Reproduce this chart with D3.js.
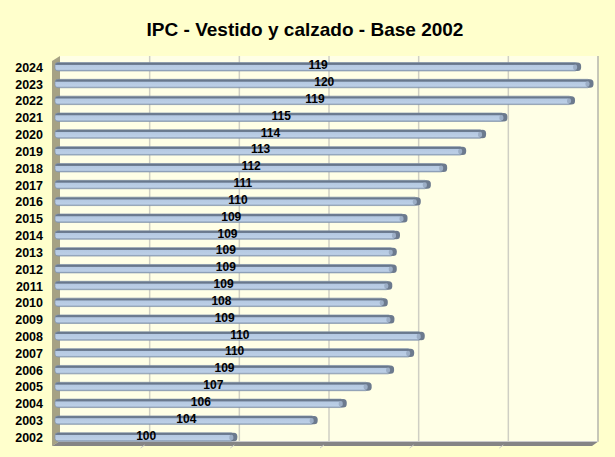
<!DOCTYPE html>
<html>
<head>
<meta charset="utf-8">
<script src="https://cdn.jsdelivr.net/npm/d3@7"></script>
<style>
  body { margin: 0; background: #ffffcc; }
  svg { display: block; font-family: "Liberation Sans", Arial, sans-serif; }
</style>
</head>
<body>
<div id="chart"></div>
<script>
// data (labels are rounded values)
const years = ["2002","2003","2004","2005","2006","2007","2008","2009","2010","2011","2012",
               "2013","2014","2015","2016","2017","2018","2019","2020","2021","2022","2023","2024"];
const values = [100, 104.48, 106.1, 107.49, 108.74, 109.86, 110.45, 108.76, 108.39, 108.64, 108.89,
                108.89, 109.07, 109.49, 110.23, 110.79, 111.7, 112.76, 113.87, 115.06, 118.83, 119.86, 119.17];
const xTicks = [90, 95, 100, 105, 110, 115, 120];
const title = "IPC - Vestido y calzado - Base 2002";

const W = 615, H = 457;
const data = years.map((y, i) => ({year: y, value: values[i]}));

const svg = d3.select("#chart").append("svg")
    .attr("width", W)
    .attr("height", H);

svg.append("rect").attr("width", W).attr("height", H).attr("fill", "#ffffcc");

// bar gradient (cylinder-ish look)
const defs = svg.append("defs");
const grad = defs.append("linearGradient")
    .attr("id", "barGrad")
    .attr("x1", 0).attr("y1", 0).attr("x2", 0).attr("y2", 1);
[["0%", "#5f6d80"], ["24%", "#6f7f95"], ["32%", "#b5c9e2"], ["80%", "#bccfe6"], ["100%", "#8c9fb8"]]
    .forEach(s => grad.append("stop").attr("offset", s[0]).attr("stop-color", s[1]));

const x = d3.scaleLinear().domain([90, 120]).range([60, 598]);
const y = d3.scaleBand()
    .domain(years.slice().reverse())
    .range([58.3, 445.4])
    .paddingInner(0.5)
    .paddingOuter(0.25);

const plotTop = 56, plotBottom = 441;

// back wall
svg.append("rect")
    .attr("x", x(90)).attr("y", plotTop)
    .attr("width", x(120) - x(90)).attr("height", plotBottom - plotTop)
    .attr("fill", "#ffffe6");

// gridlines
svg.selectAll(".grid")
    .data(xTicks.filter(t => t > 90))
    .enter()
    .append("line")
    .attr("class", "grid")
    .attr("x1", d => x(d)).attr("x2", d => x(d))
    .attr("y1", plotTop).attr("y2", plotBottom)
    .attr("stroke", d => d === 120 ? "#b4b4ac" : "#cfcfc4")
    .attr("stroke-width", 1.5);

// left wall
svg.append("polygon")
    .attr("points", [[52, 61], [60, plotTop], [60, plotBottom], [52, 446]].join(" "))
    .attr("fill", "#a6a284");

// floor
svg.append("polygon")
    .attr("points", [[52, 446], [60, plotBottom], [x(120) + 1, plotBottom], [x(120) - 6, 446]].join(" "))
    .attr("fill", "#858585");
svg.append("line")
    .attr("x1", 58).attr("x2", x(120))
    .attr("y1", plotBottom + 0.5).attr("y2", plotBottom + 0.5)
    .attr("stroke", "#cacaca").attr("stroke-width", 1);

// small floor ticks
svg.selectAll(".ftick")
    .data(xTicks.filter(t => t > 90 && t < 120))
    .enter()
    .append("line")
    .attr("class", "ftick")
    .attr("x1", d => x(d) - 9).attr("y1", 448)
    .attr("x2", d => x(d) - 5).attr("y2", 445)
    .attr("stroke", "#c8c8c8").attr("stroke-width", 1);

// bars
const barX0 = 55;
const bars = svg.selectAll(".bar")
    .data(data)
    .enter()
    .append("g")
    .attr("class", "bar")
    .attr("transform", d => "translate(0," + y(d.year) + ")");

const bw = y.bandwidth();

bars.append("rect")
    .attr("x", barX0)
    .attr("y", 0)
    .attr("width", d => x(d.value) - 2 - barX0 - 3)
    .attr("height", bw)
    .attr("rx", 3)
    .attr("fill", "url(#barGrad)")
    .attr("stroke", "#8394ab")
    .attr("stroke-width", 0.7);

// right end cap
bars.append("rect")
    .attr("x", d => x(d.value) - 2 - 7)
    .attr("y", 0)
    .attr("width", 7)
    .attr("height", bw)
    .attr("rx", 3.5)
    .attr("fill", "#6c7a8e");
bars.append("rect")
    .attr("x", d => x(d.value) - 2 - 8)
    .attr("y", 2)
    .attr("width", 4)
    .attr("height", bw - 3)
    .attr("rx", 2)
    .attr("fill", "#9caec6");

// value labels
bars.append("text")
    .attr("x", d => (barX0 + x(d.value) - 2) / 2)
    .attr("y", bw / 2 + 2.6)
    .attr("text-anchor", "middle")
    .attr("font-size", 12)
    .attr("font-weight", "bold")
    .attr("fill", "#000")
    .text(d => Math.round(d.value));

// year labels
const yAxis = d3.axisLeft(y).tickSize(0).tickPadding(0);
const yg = svg.append("g")
    .attr("transform", "translate(43,0)")
    .call(yAxis);
yg.select(".domain").remove();
yg.attr("font-size", 12).attr("font-family", "Liberation Sans, Arial, sans-serif");
yg.selectAll("text")
    .attr("font-size", 12.5)
    .attr("font-weight", "bold")
    .attr("fill", "#000")
    .attr("dy", "0.4em");

// title
svg.append("text")
    .attr("x", 305)
    .attr("y", 36)
    .attr("text-anchor", "middle")
    .attr("font-size", 19)
    .attr("font-weight", "bold")
    .attr("fill", "#000")
    .text(title);
</script>
</body>
</html>
